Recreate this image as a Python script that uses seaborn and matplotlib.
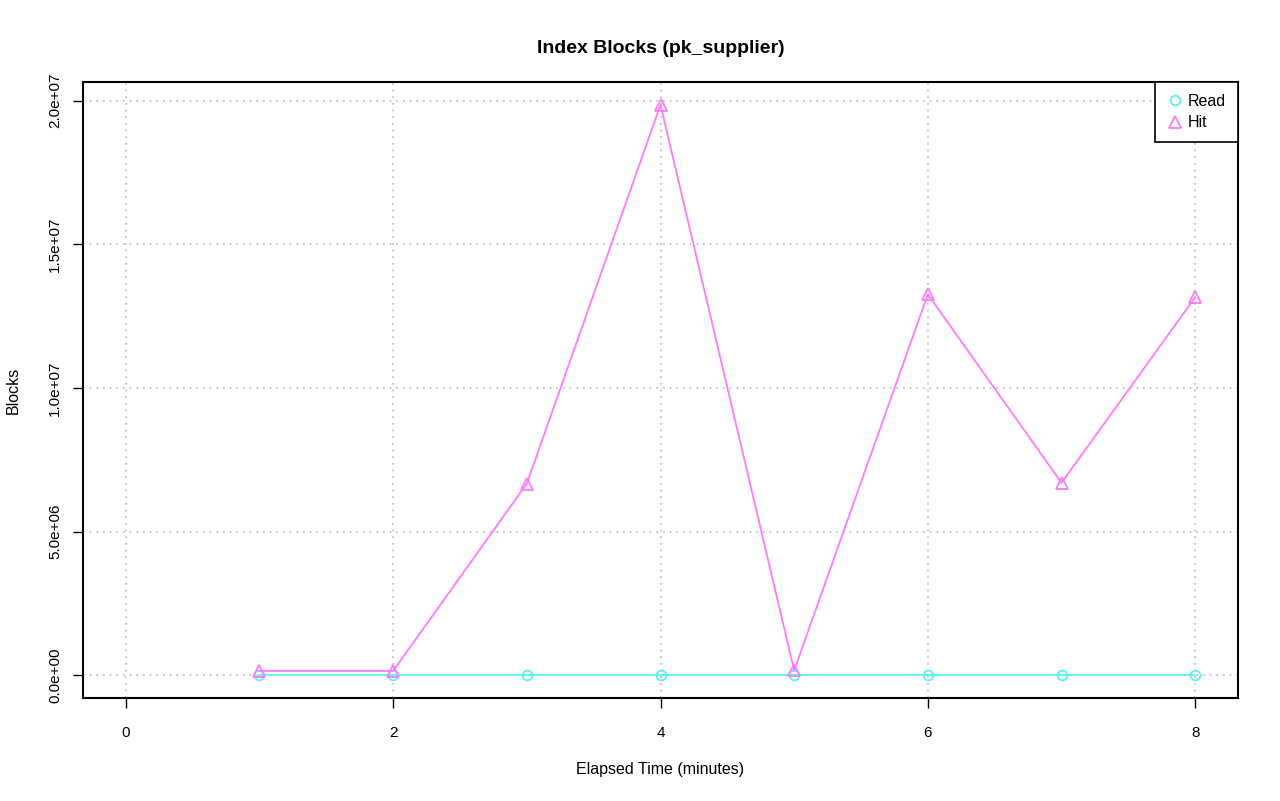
import matplotlib
matplotlib.use("Agg")
import matplotlib.pyplot as plt
import seaborn as sns
import pandas as pd
from matplotlib.lines import Line2D

minutes = [1, 2, 3, 4, 5, 6, 7, 8]
read_blocks = [0, 0, 0, 0, 0, 0, 0, 0]
hit_blocks = [150000, 150000, 6670000, 19860000, 170000, 13260000, 6700000, 13160000]
x_ticks = [0, 2, 4, 6, 8]
y_ticks = [0, 5e6, 1e7, 1.5e7, 2e7]
y_tick_labels = ["0.0e+00", "5.0e+06", "1.0e+07", "1.5e+07", "2.0e+07"]

sns.set_style("white")
plt.rcParams['font.family'] = ['Liberation Sans', 'DejaVu Sans']
plt.rcParams['text.color'] = 'black'
plt.rcParams['axes.labelcolor'] = 'black'
plt.rcParams['xtick.color'] = 'black'
plt.rcParams['ytick.color'] = 'black'

READ_COL = "#5CF2F2"
HIT_COL = "#FF7AFF"

df = pd.DataFrame({"minutes": minutes, "Read": read_blocks, "Hit": hit_blocks})

fig = plt.figure(figsize=(12.8, 8.01), dpi=100)
ax = fig.add_axes([83/1280, 1 - 698/801, (1238-83)/1280, (698-82)/801])

sns.lineplot(data=df, x="minutes", y="Read", ax=ax, color=READ_COL, marker="o",
             markersize=7, markerfacecolor="none", markeredgecolor=READ_COL,
             markeredgewidth=1.3, linewidth=1.3, zorder=3)
sns.lineplot(data=df, x="minutes", y="Hit", ax=ax, color=HIT_COL, marker="^",
             markersize=8, markerfacecolor="none", markeredgecolor=HIT_COL,
             markeredgewidth=1.3, linewidth=1.3, zorder=4)

ymax = max(max(hit_blocks), max(read_blocks))
ax.set_xlim(-0.32, 8.32)
ax.set_ylim(-0.04 * ymax, ymax * 1.04)

ax.set_xticks(x_ticks)
ax.set_xticklabels([str(t) for t in x_ticks], fontsize=11)
ax.set_yticks(y_ticks)
ax.set_yticklabels(y_tick_labels, fontsize=11, rotation=90, va="center")
ax.tick_params(axis="x", direction="out", length=7, width=1, color="black",
               pad=13, bottom=True)
ax.tick_params(axis="y", direction="out", length=7, width=1, color="black",
               pad=8, left=True)

ax.grid(True, color="#BBBBBB", linestyle=(0, (1, 3)), linewidth=1.2)
ax.set_axisbelow(True)
for s in ax.spines.values():
    s.set_color("black")
    s.set_linewidth(1.5)

ax.set_xlabel("Elapsed Time (minutes)", fontsize=11.5, labelpad=16)
ax.set_ylabel("Blocks", fontsize=11.5, labelpad=20)
ax.set_title("Index Blocks (pk_supplier)", fontsize=14, fontweight="bold", pad=21)

handles = [
    Line2D([], [], linestyle="none", marker="o", markersize=7, markerfacecolor="none",
           markeredgecolor=READ_COL, markeredgewidth=1.3),
    Line2D([], [], linestyle="none", marker="^", markersize=8, markerfacecolor="none",
           markeredgecolor=HIT_COL, markeredgewidth=1.3),
]
leg = ax.legend(handles, ["Read", "Hit"], loc="upper right", fontsize=11.5,
                frameon=True, fancybox=False, borderaxespad=0, handletextpad=0.3,
                handlelength=1.0, borderpad=0.75, labelspacing=0.4)
leg.get_frame().set_edgecolor("black")
leg.get_frame().set_linewidth(1.2)
leg.get_frame().set_alpha(1)

fig.savefig("out.png", dpi=100)
